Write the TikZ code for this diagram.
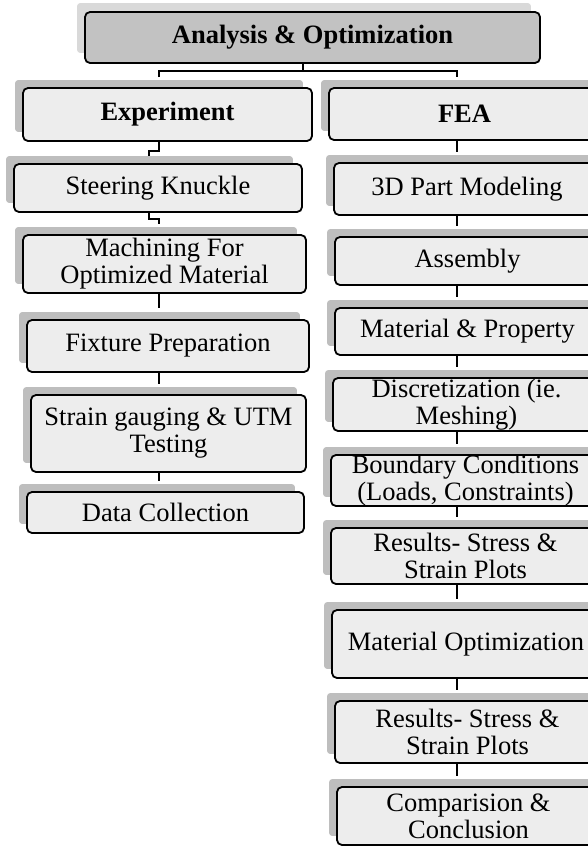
\documentclass[tikz,border=0pt]{standalone}
\usepackage{fontspec}
\setmainfont{Liberation Serif}
\pgfdeclarelayer{bg}
\pgfsetlayers{bg,main}
\definecolor{boxfill}{HTML}{EDEDED}
\definecolor{topfill}{HTML}{C2C2C2}
\definecolor{shd}{HTML}{BEBEBE}
\definecolor{topshd}{HTML}{D9D9D9}
\tikzset{
  bx/.style={draw=black, line width=1.8pt, fill=boxfill, rounded corners=5pt,
    inner sep=0pt, align=center, font=\fontsize{26.5}{27}\selectfont},
  conn/.style={draw=black, line width=2.6pt},
}
\newcommand{\bxnode}[6]{\node[bx, minimum width=#4, minimum height=#5] (#1) at (#2,#3) {#6};}
\begin{document}
\begin{tikzpicture}[x=1pt,y=-1pt]
\useasboundingbox (0,0) rectangle (588,846);
\clip (0,0) rectangle (588,846);
% top
\node[bx, fill=topfill, minimum width=455, minimum height=51] (top) at (312.5,37.5) {\textbf{Analysis \& Optimization}};
% left column
\bxnode{exp}{167.5}{114.5}{289}{53}{\textbf{Experiment}}
\bxnode{sk}{158}{188}{288}{48}{Steering Knuckle}
\bxnode{mach}{164.5}{264}{283}{58}{Machining For\\Optimized Material}
\bxnode{fix}{168}{346}{282}{52}{Fixture Preparation}
\bxnode{strain}{168.5}{433.5}{275}{77}{Strain gauging \& UTM\\Testing}
\bxnode{data}{165.5}{512.5}{277}{41}{Data Collection}
% right column
\bxnode{fea}{464.5}{114}{271}{52}{\textbf{FEA}}
\bxnode{p3d}{467}{189}{266}{52}{3D Part Modeling}
\bxnode{asm}{467.5}{261}{265}{48}{Assembly}
\bxnode{mat}{467.5}{331.5}{265}{47}{Material \& Property}
\bxnode{disc}{466.5}{404.5}{267}{53}{Discretization (ie.\\Meshing)}
\bxnode{bc}{465.5}{480.5}{269}{51}{Boundary Conditions\\(Loads, Constraints)}
\bxnode{resa}{465.5}{556}{269}{56}{Results- Stress \&\\Strain Plots}
\bxnode{mopt}{466}{644}{268}{68}{Material Optimization}
\bxnode{resb}{467.5}{732}{265}{62}{Results- Stress \&\\Strain Plots}
\bxnode{comp}{468.5}{816}{263}{58}{Comparision \&\\Conclusion}
% shadows
\begin{pgfonlayer}{bg}
\fill[topshd, rounded corners=3pt] ([shift={(-7pt,8pt)}]top.north west) rectangle ([shift={(-10pt,11pt)}]top.south east);
\foreach \n in {exp,sk,mach,fix,strain,data,fea,p3d,asm,mat,disc,bc,resa,mopt,resb,comp}{
  \fill[shd, rounded corners=3pt] ([shift={(-7pt,7pt)}]\n.north west) rectangle ([shift={(-10pt,10pt)}]\n.south east);
}
\end{pgfonlayer}
% connector columns
\coordinate (ct) at (303,0);
\coordinate (cl) at (159,0);
\coordinate (cm) at (149,0);
\coordinate (cr) at (457,0);
% top to branches
\draw[conn] (top.south -| ct) -- ++(0,7) coordinate (j);
\draw[conn] ([yshift=10pt]exp.north -| cl) |- (j) -| ([yshift=10pt]fea.north -| cr);
% left column
\draw[conn] (exp.south -| cl) -- ++(0,9) -| ([yshift=7pt]sk.north -| cm);
\draw[conn] (sk.south -| cm) -- ++(0,6) -| ([yshift=10pt]mach.north -| cl);
\draw[conn] (mach.south -| cl) -- ([yshift=11pt]fix.north -| cl);
\draw[conn] (fix.south -| cl) -- ([yshift=10pt]strain.north -| cl);
\draw[conn] (strain.south -| cl) -- ([yshift=10pt]data.north -| cl);
% right column
\foreach \a/\b in {fea/p3d,p3d/asm,asm/mat,mat/disc,disc/bc,bc/resa,resa/mopt,mopt/resb,resb/comp}{
  \draw[conn] (\a.south -| cr) -- ([yshift=10pt]\b.north -| cr);
}
\end{tikzpicture}
\end{document}
